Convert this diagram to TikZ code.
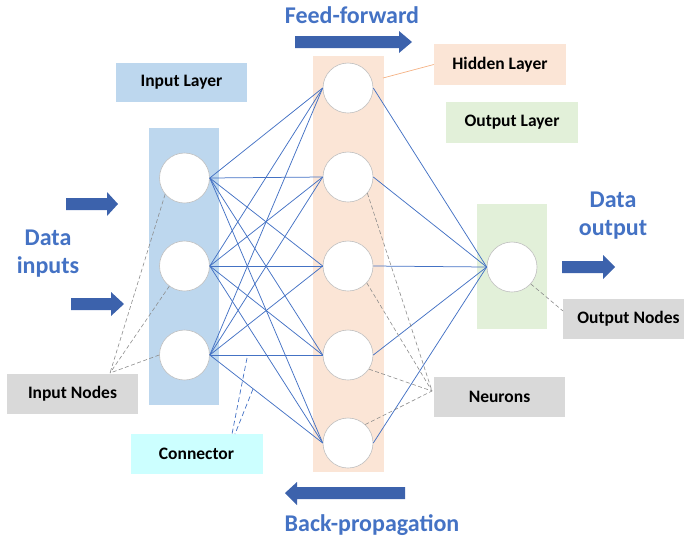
\documentclass[tikz,border=0pt]{standalone}
\usepackage{fontspec}
\setmainfont{Carlito}
\definecolor{inblue}{HTML}{BDD7EE}
\definecolor{peach}{HTML}{FBE5D6}
\definecolor{paleg}{HTML}{E2F0D9}
\definecolor{boxgray}{HTML}{D9D9D9}
\definecolor{pcyan}{HTML}{CCFFFF}
\definecolor{linkblue}{HTML}{4472C4}
\definecolor{arrowblue}{HTML}{3C62AC}
\definecolor{textblue}{HTML}{4472C4}
\definecolor{orangeln}{HTML}{F4B183}
\begin{document}
\begin{tikzpicture}[x=1pt,y=-1pt,
  layer/.style={rectangle,inner sep=0pt,draw=none},
  neuron/.style={circle,minimum size=50pt,inner sep=0pt,fill=white,draw=black!25,line width=0.6pt},
  labelbox/.style={rectangle,inner sep=0pt,minimum width=131pt,minimum height=40pt,font=\fontsize{17.5}{20}\selectfont\bfseries},
  title/.style={text=textblue,font=\fontsize{24}{28}\selectfont\bfseries,align=center,inner sep=0pt},
  link/.style={linkblue,line width=0.75pt},
  pointer/.style={black!45,line width=0.6pt,dash pattern=on 4pt off 2.5pt},
  cpointer/.style={linkblue,line width=0.7pt,dash pattern=on 5pt off 3pt}]
\useasboundingbox (0,0) rectangle (684,542);
% layers
\node[layer,fill=inblue,minimum width=70pt,minimum height=277pt] (inL) at (184,266.5) {};
\node[layer,fill=peach,minimum width=71pt,minimum height=416pt] (hidL) at (348.5,264) {};
\node[layer,fill=paleg,minimum width=70pt,minimum height=125pt] (outL) at (512,266.5) {};
% label boxes
\node[labelbox,fill=inblue,minimum height=39pt] (tIn) at (181.5,82.5) {Input Layer};
\node[labelbox,fill=peach,minimum width=132pt,minimum height=41pt] (tHid) at (500,64.5) {Hidden Layer};
\node[labelbox,fill=paleg,minimum width=132pt,minimum height=41pt] (tOut) at (512,122.5) {Output Layer};
\node[labelbox,fill=boxgray] (tOutN) at (628.5,319) {Output Nodes};
\node[labelbox,fill=boxgray] (tNeu) at (499.5,397) {Neurons};
\node[labelbox,fill=boxgray] (tInN) at (72.5,394) {Input Nodes};
\node[labelbox,fill=pcyan,minimum width=132pt] (tCon) at (196.5,454) {Connector};
% orange pointer
\draw[orangeln,line width=0.7pt] (383,78) -- (tHid.west);
% neurons
\foreach \i/\y in {1/178,2/266,3/355} \node[neuron] (in\i) at (184.5,\y) {};
\foreach \j/\y in {1/88,2/177,3/266,4/355,5/443} \node[neuron] (h\j) at (348,\y) {};
\node[neuron] (o1) at (512,267) {};
% connections
\foreach \i in {1,2,3} \foreach \j in {1,2,3,4,5} \draw[link] (in\i.east) -- (h\j.west);
\foreach \j in {1,2,3,4,5} \draw[link] (h\j.east) -- (o1.west);
% pointer coordinates
\coordinate (pIn) at (110,373);
\coordinate (pNeu) at (432,391);
\coordinate (pOut) at (563,311);
\coordinate (pc1) at (247,358);
\coordinate (pc2) at (253,389);
\coordinate (pc1e) at (232,434);
\coordinate (pc2e) at (235,434);
% dashed pointers
\draw[pointer] (in1.220) -- (pIn);
\draw[pointer] (in2.233) -- (pIn);
\draw[pointer] (in3.west) -- (pIn);
\draw[pointer] (h2.320) -- (pNeu);
\draw[pointer] (h3.318) -- (pNeu);
\draw[pointer] (h4.326) -- (pNeu);
\draw[pointer] (h5.47) -- (pNeu);
\draw[pointer] (o1.318) -- (pOut);
\draw[cpointer] (pc1) -- (pc1e);
\draw[cpointer] (pc2) -- (pc2e);
% block arrows
\fill[arrowblue] (295,36) -- (399,36) -- (399,31) -- (412,42) -- (399,53) -- (399,48) -- (295,48) -- cycle;
\fill[arrowblue] (66,198) -- (107,198) -- (107,192) -- (118,204) -- (107,216) -- (107,210) -- (66,210) -- cycle;
\fill[arrowblue] (71,298) -- (111,298) -- (111,292) -- (124,304) -- (111,316) -- (111,310) -- (71,310) -- cycle;
\fill[arrowblue] (562,261) -- (603,261) -- (603,255) -- (615,267) -- (603,279) -- (603,273) -- (562,273) -- cycle;
\fill[arrowblue] (405,487) -- (297,487) -- (297,482) -- (285,493) -- (297,505) -- (297,499) -- (405,499) -- cycle;
% titles
\node[title] (ff) at (352,15) {Feed-forward};
\node[title] (bp) at (372,525) {Back-propagation};
\node[title] (din) at (48,254) {Data\\inputs};
\node[title] (dout) at (613,216) {Data\\output};
\end{tikzpicture}
\end{document}
